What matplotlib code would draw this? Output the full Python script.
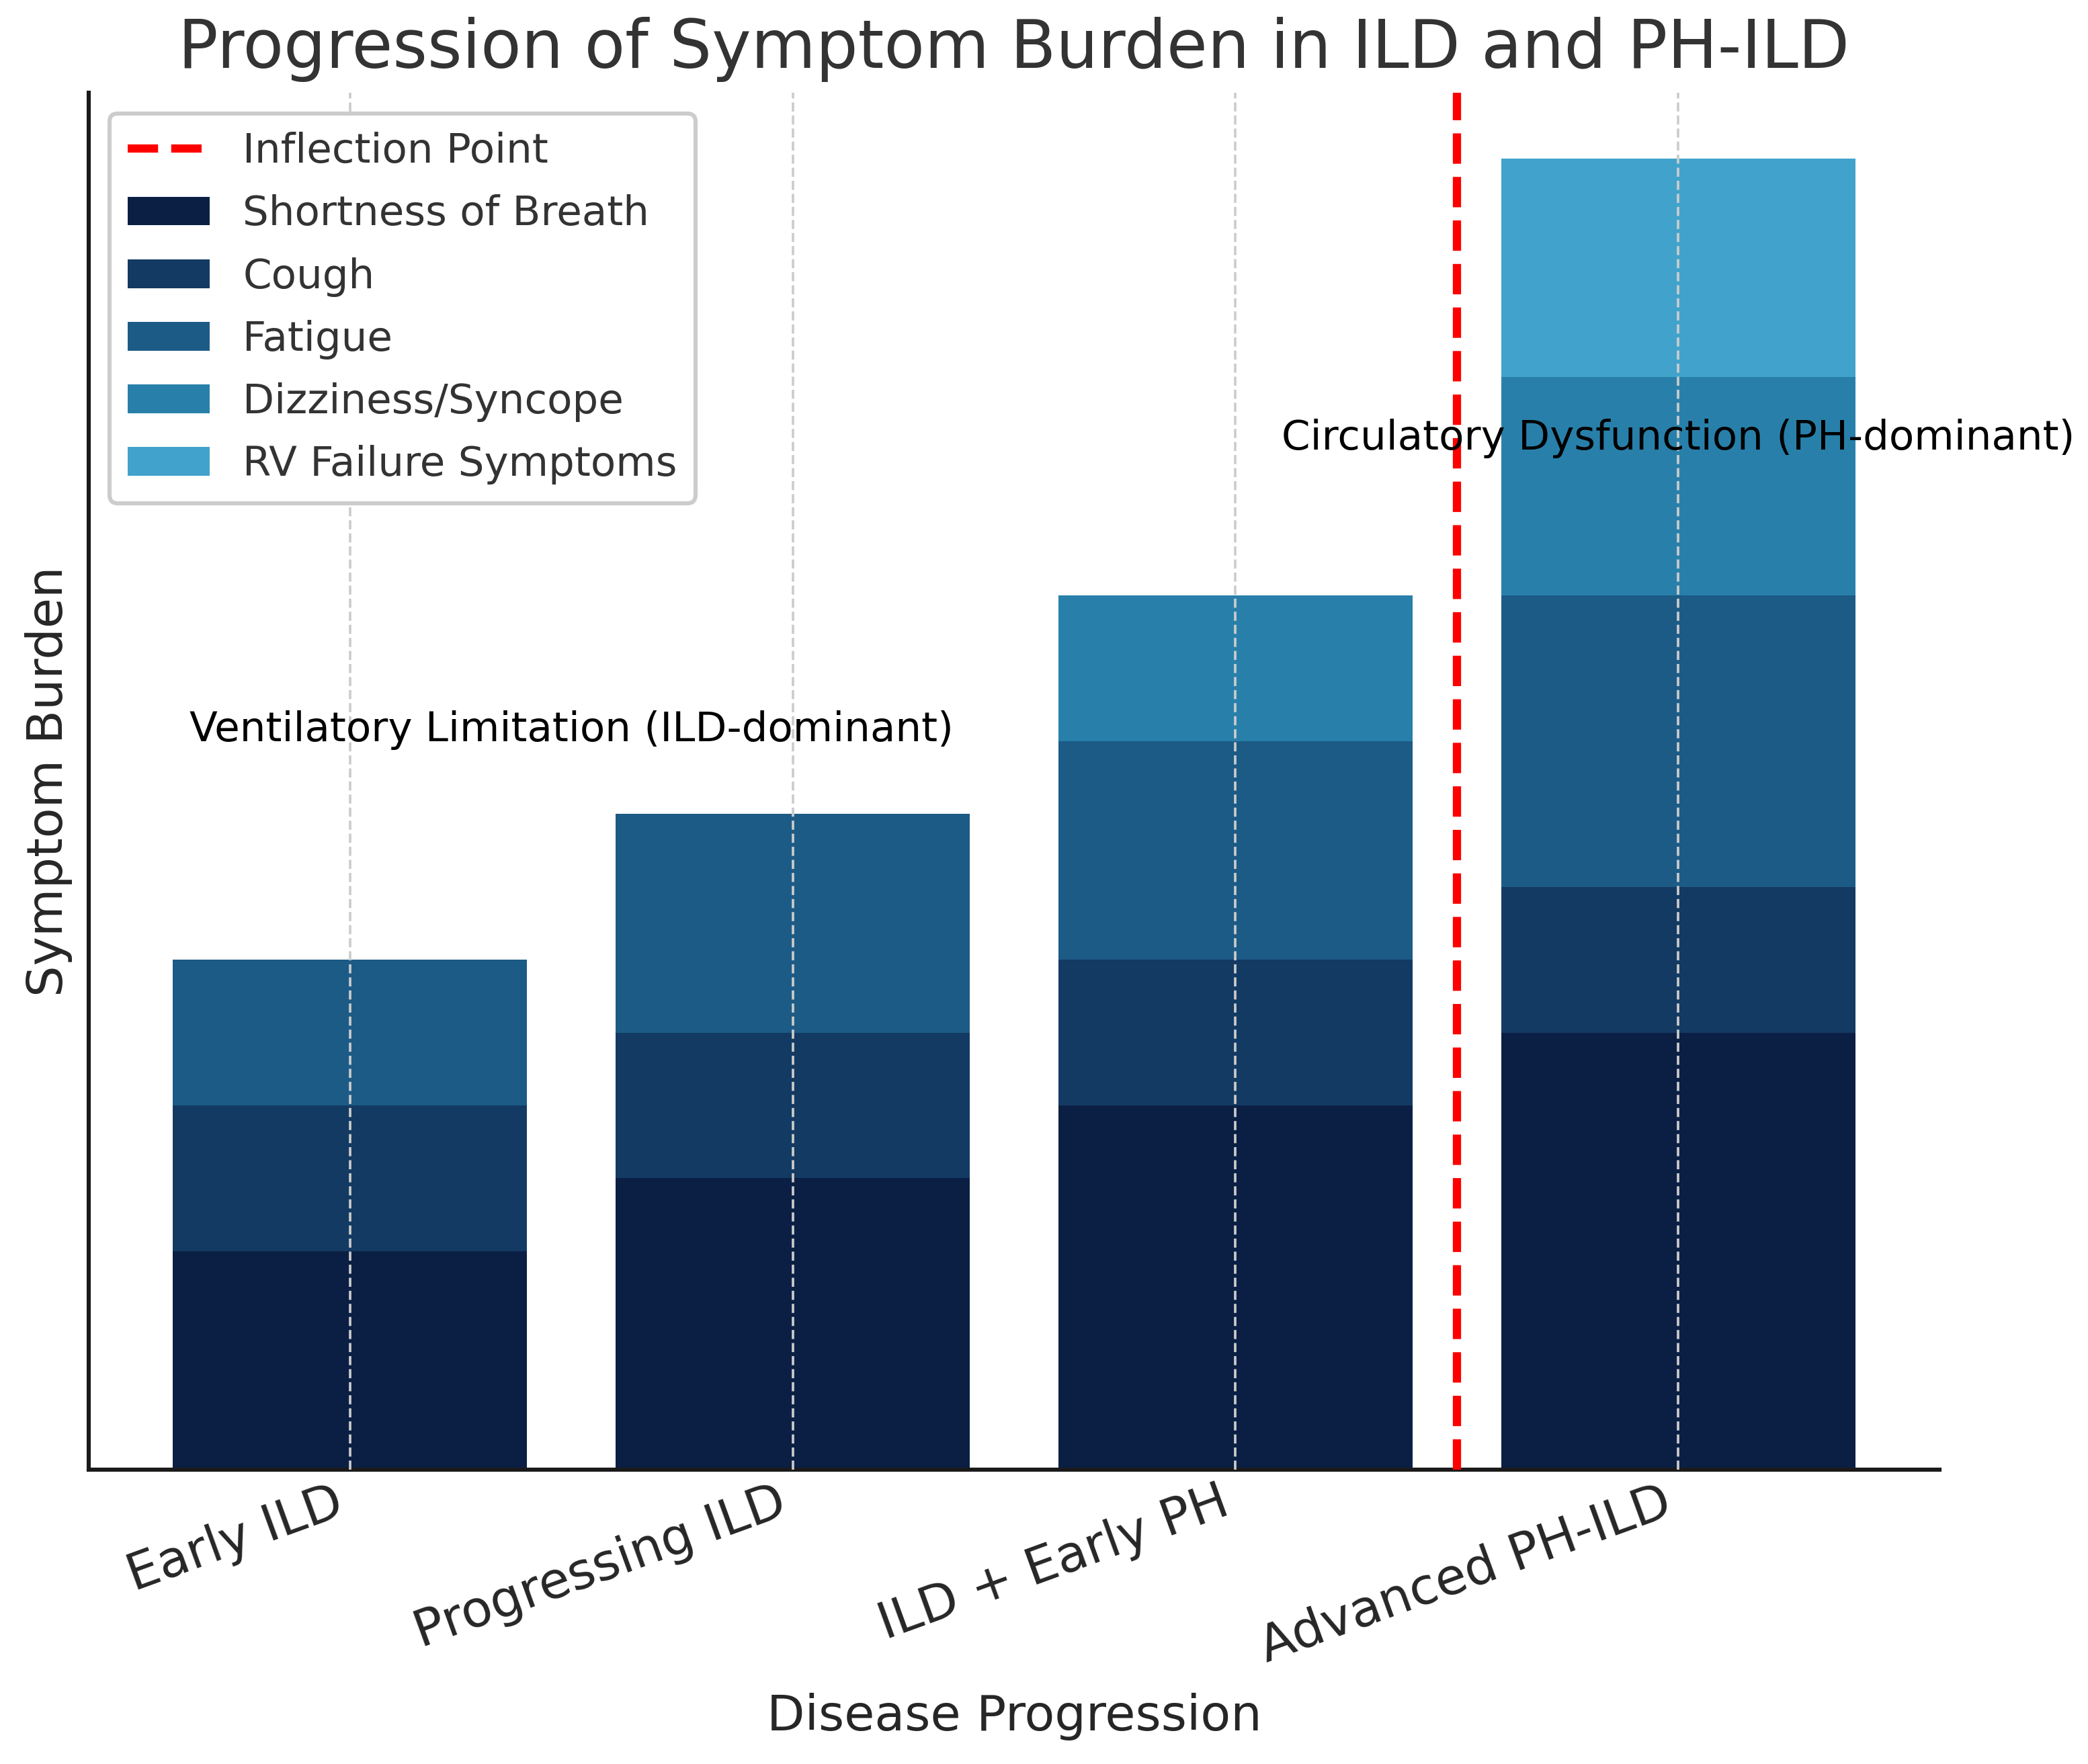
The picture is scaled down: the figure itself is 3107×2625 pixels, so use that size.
import matplotlib
matplotlib.use("Agg")
import matplotlib.pyplot as plt
import numpy as np

stages = ["Early ILD", "Progressing ILD", "ILD + Early PH", "Advanced PH-ILD"]
shortness_of_breath = [3, 4, 5, 6]
cough = [2, 2, 2, 2]
fatigue = [2, 3, 3, 4]
dizziness_syncope = [0, 0, 2, 3]
rv_failure = [0, 0, 0, 3]

series_names = ["Shortness of Breath", "Cough", "Fatigue", "Dizziness/Syncope", "RV Failure Symptoms"]
series_values = [shortness_of_breath, cough, fatigue, dizziness_syncope, rv_failure]
series_colors = ["#0b1f44", "#133a62", "#1c5b86", "#2880aa", "#41a3cb"]

inflection_x = 2.5
annotations = [
    (0.5, 10, "Ventilatory Limitation (ILD-dominant)"),
    (3.0, 14, "Circulatory Dysfunction (PH-dominant)"),
]

txt = "#262626"
plt.rcParams.update({
    "font.family": "DejaVu Sans",
    "font.size": 10,
    "text.color": txt,
    "axes.labelcolor": txt,
    "xtick.color": txt,
    "ytick.color": txt,
})

dpi = 440
fig = plt.figure(figsize=(3107 / dpi, 2625 / dpi), dpi=dpi)
ax = fig.add_axes([132 / 3107, 1 - 2187 / 2625, (2886 - 132) / 3107, (2187 - 138) / 2625])

x = np.arange(len(stages))
bottom = np.zeros(len(stages))
for name, vals, col in zip(series_names, series_values, series_colors):
    vals = np.array(vals, dtype=float)
    ax.bar(x, vals, width=0.8, bottom=bottom, color=col, label=name, zorder=1)
    bottom += vals

ax.axvline(inflection_x, color="red", linestyle="--", linewidth=2, label="Inflection Point", zorder=3)

for ax_x, ax_y, s in annotations:
    ax.text(ax_x, ax_y, s, ha="center", fontsize=10, color="black", zorder=4)

ax.set_xticks(x)
ax.set_xticklabels(stages, rotation=20, ha="right", fontsize=12.3)
ax.set_yticks([])
ax.tick_params(axis="x", length=0, pad=2)
ax.set_xlabel("Disease Progression", fontsize=12)
ax.xaxis.set_label_coords(0.5, -0.162)
ax.set_ylabel("Symptom Burden", fontsize=12)
ax.set_title("Progression of Symptom Burden in ILD and PH-ILD", fontsize=16.2, color="#333333")

ax.set_xlim(-0.59, 3.59)
ax.set_ylim(0, 18.9)

ax.grid(axis="x", linestyle="--", color="#cccccc", linewidth=0.6, zorder=2)
ax.grid(axis="y", visible=False)
ax.set_axisbelow(False)
for gl in ax.get_xgridlines():
    gl.set_zorder(2)

for side in ["top", "right"]:
    ax.spines[side].set_visible(False)
for side in ["left", "bottom"]:
    ax.spines[side].set_color("#1a1a1a")
    ax.spines[side].set_linewidth(1.0)

handles, labels = ax.get_legend_handles_labels()
order = [labels.index("Inflection Point")] + [labels.index(n) for n in series_names]
leg = ax.legend([handles[i] for i in order], [labels[i] for i in order], loc="upper left",
                fontsize=10, frameon=True, edgecolor="#cccccc", framealpha=1.0, fancybox=True,
                labelspacing=0.56, borderpad=0.45)
for t in leg.get_texts():
    t.set_color("#333333")

fig.savefig("out.png", dpi=dpi)
